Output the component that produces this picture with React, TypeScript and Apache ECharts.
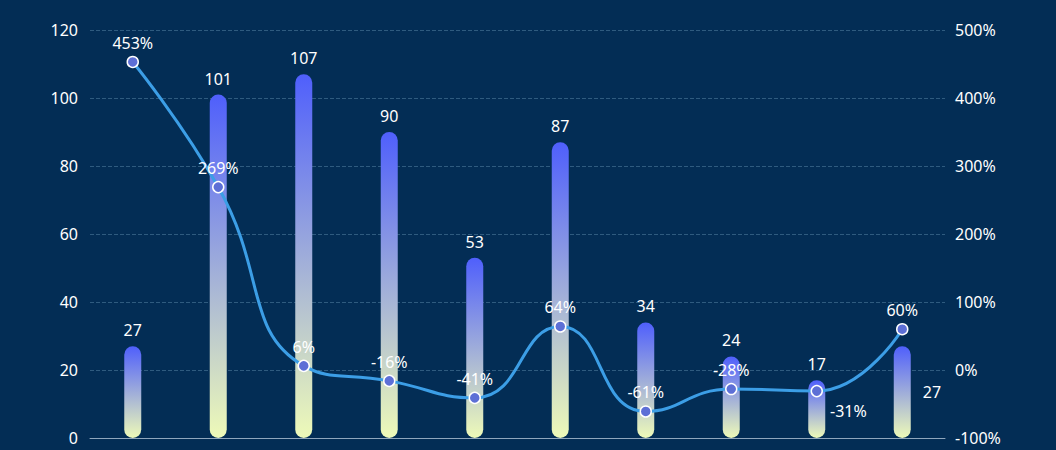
import * as React from "react";
import * as echarts from "echarts";
import { useEffect, useRef } from "react";

const categories = ["1", "2", "3", "4", "5", "6", "7", "8", "9", "10"];
const barValues = [27, 101, 107, 90, 53, 87, 34, 24, 17, 27];
const rateValues = [453, 269, 6, -16, -41, 64, -61, -28, -31, 60];

const App = () => {
  const chartRef = useRef<HTMLDivElement>(null);

  useEffect(() => {
    if (!chartRef.current) return;
    const myChart = echarts.init(chartRef.current, null, { renderer: "svg" });
    const font = "Noto Sans";
    const option = {
      animation: false,
      backgroundColor: "#032d55",
      textStyle: { fontFamily: font },
      grid: { left: 90, right: 111, top: 30, bottom: 12 },
      xAxis: {
        type: "category",
        data: categories,
        axisLine: { lineStyle: { color: "#8fa6bd" } },
        axisTick: { show: false },
        axisLabel: { show: false },
      },
      yAxis: [
        {
          type: "value",
          min: 0,
          max: 120,
          interval: 20,
          axisLine: { show: false },
          axisTick: { show: false },
          axisLabel: { color: "#ffffff", fontSize: 16, margin: 12 },
          splitLine: { lineStyle: { color: "#2f5b7f", type: "dashed" } },
        },
        {
          type: "value",
          min: -100,
          max: 500,
          interval: 100,
          axisLine: { show: false },
          axisTick: { show: false },
          axisLabel: { color: "#ffffff", fontSize: 16, formatter: "{value}%", margin: 10 },
          splitLine: { show: false },
        },
      ],
      series: [
        {
          type: "bar",
          data: barValues.map((v, i) =>
            i === barValues.length - 1
              ? { value: v, label: { position: "right", offset: [4, 0] } }
              : v
          ),
          barWidth: 17,
          itemStyle: {
            borderRadius: 9,
            color: new echarts.graphic.LinearGradient(0, 0, 0, 1, [
              { offset: 0, color: "#4f5ffc" },
              { offset: 1, color: "#eefab8" },
            ]),
          },
          label: { show: true, position: "top", color: "#ffffff", fontSize: 16, distance: 8 },
        },
        {
          type: "line",
          yAxisIndex: 1,
          smooth: true,
          data: rateValues.map((v, i) =>
            i === 8
              ? { value: v, label: { position: "right", offset: [2, 20] } }
              : v
          ),
          symbol: "circle",
          symbolSize: 11,
          lineStyle: { color: "#3c9ee6", width: 3 },
          itemStyle: { color: "#5d6fd6", borderColor: "#ffffff", borderWidth: 1.5 },
          label: {
            show: true,
            position: "top",
            color: "#ffffff",
            fontSize: 16,
            formatter: "{c}%",
          },
        },
      ],
    };
    myChart.setOption(option as any);
    return () => {
      myChart.dispose();
    };
  }, []);

  return (
    <div
      ref={chartRef}
      style={{ position: "fixed", left: 0, top: 0, width: 1056, height: 450 }}
    />
  );
};

export default App;
